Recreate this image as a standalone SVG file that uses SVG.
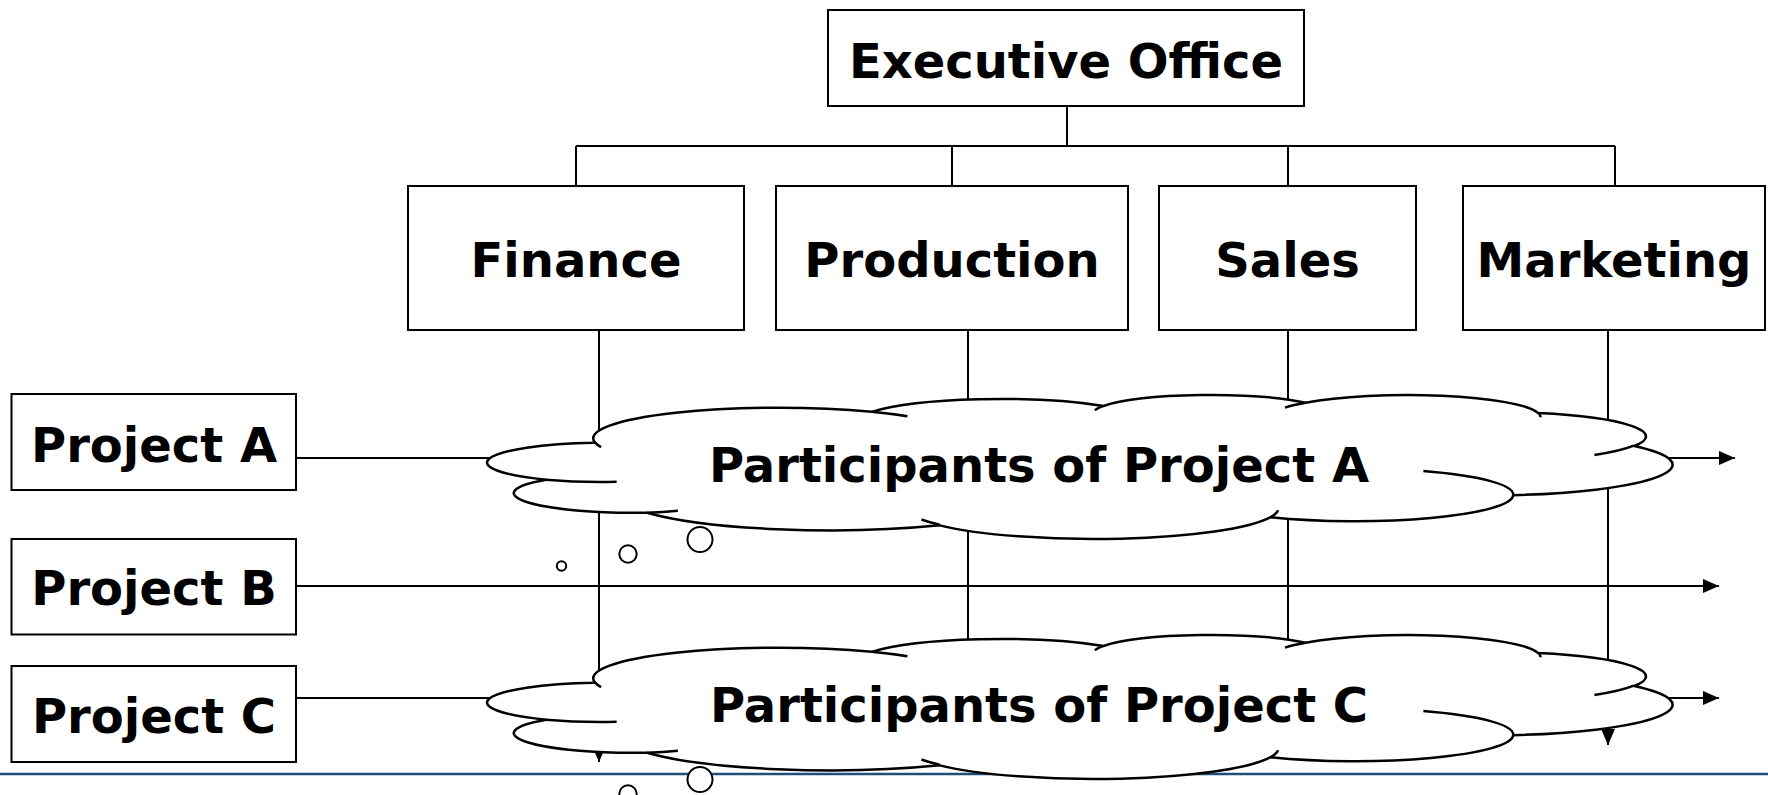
<svg xmlns="http://www.w3.org/2000/svg" xmlns:xlink="http://www.w3.org/1999/xlink" width="1768" height="795" viewBox="0 0 1768 795">
<style>
.box{fill:#fff;stroke:#000;stroke-width:2}
.lbl{font-family:"DejaVu Sans","Verdana",sans-serif;font-weight:bold;font-size:48px;fill:#000;text-anchor:middle}
.wire{fill:none;stroke:#000;stroke-width:2}
.cl{fill:#fff;stroke:#000;stroke-width:2.5;stroke-linejoin:round}
.tail{fill:none;stroke:#000;stroke-width:2.5}
.bub{fill:#fff;stroke:#000;stroke-width:2}
</style>
<defs>
<marker id="arr" markerUnits="userSpaceOnUse" markerWidth="16" markerHeight="14" refX="16" refY="7" orient="auto">
<path d="M0,0 L16,7 L0,14 Z" fill="#000"/>
</marker>
<g id="cloudShape">
<path class="cl" d="M594.89,442.38 A185.08,30.62 0 0 1 871.81,411.83 A146.16,24.21 0 0 1 1103.45,405.94 A119.63,19.81 0 0 1 1305.63,402.78 A133.12,21.97 0 0 1 1538.21,413.09 A146.16,24.23 0 0 1 1634.16,446.02 A185.68,30.72 0 0 1 1513.16,495.15 A158.55,26.21 0 0 1 1270.66,517.17 A185.05,30.70 0 0 1 939.70,525.34 A211.58,35.13 0 0 1 647.18,512.70 A119.49,19.72 0 0 1 545.94,479.65 A119.08,19.81 0 0 1 593.96,442.85 Z"/>
<path class="tail" d="M616.62,481.72 A119.08,19.81 0 0 1 545.94,479.65 M677.88,510.78 A119.49,19.72 0 0 1 647.18,512.70 M939.61,524.75 A185.05,30.70 0 0 1 921.39,519.53 M1278.06,510.29 A185.05,30.70 0 0 1 1270.66,517.17 M1423.37,470.98 A158.55,26.21 0 0 1 1513.16,495.15 M1633.56,445.66 A146.16,24.23 0 0 1 1594.37,454.95 M1538.35,412.58 A133.12,21.97 0 0 1 1540.28,417.30 M1284.94,407.67 A133.12,21.97 0 0 1 1305.63,402.78 M1094.82,410.23 A119.63,19.81 0 0 1 1103.45,405.94 M871.70,411.80 A185.08,30.62 0 0 1 907.45,416.33 M601.11,447.11 A185.08,30.62 0 0 1 594.89,442.38"/>
<circle class="bub" cx="561.5" cy="566" r="4.7"/>
<circle class="bub" cx="628" cy="554" r="8.7"/>
<circle class="bub" cx="700" cy="539.5" r="12.5"/>
</g>
</defs>

<line x1="0" y1="774" x2="1768" y2="774" stroke="#1f4e79" stroke-width="2.5"/>

<g id="connectors">
<path class="wire" d="M1067,106 V146 M576,146 H1615 M576,146 V186 M952,146 V186 M1288,146 V186 M1615,146 V186"/>
<line class="wire" x1="599" y1="330" x2="599" y2="762" marker-end="url(#arr)"/>
<line class="wire" x1="968" y1="330" x2="968" y2="745" marker-end="url(#arr)"/>
<line class="wire" x1="1288" y1="330" x2="1288" y2="740" marker-end="url(#arr)"/>
<line class="wire" x1="1608" y1="330" x2="1608" y2="745" marker-end="url(#arr)"/>
<line class="wire" x1="296" y1="458" x2="1735" y2="458" marker-end="url(#arr)"/>
<line class="wire" x1="296" y1="586" x2="1719" y2="586" marker-end="url(#arr)"/>
<line class="wire" x1="296" y1="698" x2="1719" y2="698" marker-end="url(#arr)"/>
</g>

<g id="exec"><rect class="box" x="828" y="10" width="476" height="96"/><text class="lbl" x="1066" y="78">Executive Office</text></g>
<g id="finance"><rect class="box" x="408" y="186" width="336" height="144"/><text class="lbl" x="576" y="277">Finance</text></g>
<g id="production"><rect class="box" x="776" y="186" width="352" height="144"/><text class="lbl" x="952" y="277">Production</text></g>
<g id="sales"><rect class="box" x="1159" y="186" width="257" height="144"/><text class="lbl" x="1287.5" y="277">Sales</text></g>
<g id="marketing"><rect class="box" x="1463" y="186" width="302" height="144"/><text class="lbl" x="1614" y="277">Marketing</text></g>

<g id="projectA"><rect class="box" x="11.5" y="394" width="284.5" height="96"/><text class="lbl" x="154" y="462">Project A</text></g>
<g id="projectB"><rect class="box" x="11.5" y="539" width="284.5" height="95.5"/><text class="lbl" x="154" y="605">Project B</text></g>
<g id="projectC"><rect class="box" x="11.5" y="666" width="284.5" height="96"/><text class="lbl" x="154" y="733">Project C</text></g>

<g id="cloudA"><use xlink:href="#cloudShape"/><text class="lbl" x="1039" y="482">Participants of Project A</text></g>
<g id="cloudC"><use xlink:href="#cloudShape" y="240"/><text class="lbl" x="1039" y="722">Participants of Project C</text></g>
</svg>
